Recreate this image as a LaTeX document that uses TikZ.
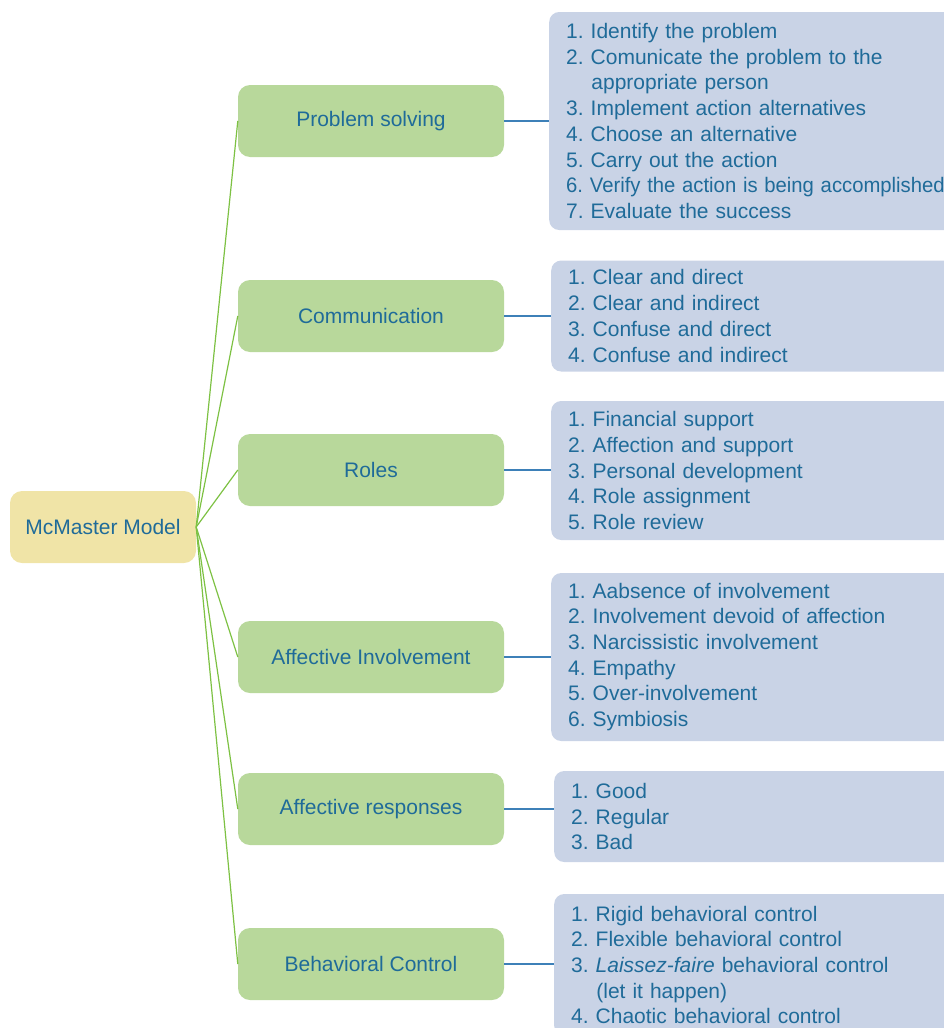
\documentclass[tikz,border=0pt]{standalone}
\usepackage{fontspec}
\setmainfont{Liberation Sans}
\frenchspacing
\definecolor{txt}{HTML}{1F6B99}
\definecolor{yellowc}{HTML}{F0E4A7}
\definecolor{greenc}{HTML}{B8D89B}
\definecolor{bluec}{HTML}{C9D3E6}
\definecolor{glinec}{HTML}{7DC143}
\definecolor{blinec}{HTML}{3D80B8}
\begin{document}
\begin{tikzpicture}[x=1pt,y=-1pt,
  basefont/.style={text=txt, font=\fontsize{21}{25.7}\selectfont\frenchspacing},
  rootbox/.style={basefont, fill=yellowc, rounded corners=12pt, minimum width=186pt, minimum height=72pt, inner sep=0pt},
  catbox/.style={basefont, fill=greenc, rounded corners=12pt, minimum width=266pt, minimum height=72pt, inner sep=0pt},
  listbox/.style={basefont, fill=bluec, rounded corners=10pt, anchor=west, text width=396pt, inner xsep=17pt, inner ysep=0pt, align=left},
  gline/.style={draw=glinec, line width=1.2pt},
  bline/.style={draw=blinec, line width=1.1pt}
]
\useasboundingbox (0,0) rectangle (944,1028);
\clip (0,0) rectangle (944,1028);

\node[rootbox] (root) at (103,527) {McMaster Model};

\node[catbox] (ps) at (371,121) {Problem solving};
\node[catbox] (co) at (371,316) {Communication};
\node[catbox] (ro) at (371,470) {Roles};
\node[catbox] (ai) at (371,657) {Affective Involvement};
\node[catbox] (ar) at (371,809) {Affective responses};
\node[catbox] (bc) at (371,964) {Behavioral Control};

\node[listbox, minimum height=218pt] (lps) at (549,121) {1. Identify the problem\\
2. Comunicate the problem to the\\
\hspace*{1.2em}appropriate person\\
3. Implement action alternatives\\
4. Choose an alternative\\
5. Carry out the action\\
\scalebox{0.965}[1]{6. Verify the action is being accomplished}\\
7. Evaluate the success};

\node[listbox, minimum height=111pt] (lco) at (551,316) {1. Clear and direct\\
2. Clear and indirect\\
3. Confuse and direct\\
4. Confuse and indirect};

\node[listbox, minimum height=139pt] (lro) at (551,470.5) {1. Financial support\\
2. Affection and support\\
3. Personal development\\
4. Role assignment\\
5. Role review};

\node[listbox, minimum height=168pt] (lai) at (551,657) {1. Aabsence of involvement\\
2. Involvement devoid of affection\\
3. Narcissistic involvement\\
4. Empathy\\
5. Over-involvement\\
6. Symbiosis};

\node[listbox, minimum height=91pt] (lar) at (554,816.5) {1. Good\\
2. Regular\\
3. Bad};

\node[listbox, minimum height=142pt] (lbc) at (554,965) {1. Rigid behavioral control\\
2. Flexible behavioral control\\
3. \textit{Laissez-faire} behavioral control\\
\hspace*{1.2em}(let it happen)\\
4. Chaotic behavioral control};

\foreach \c in {ps,co,ro,ai,ar,bc}{
  \draw[gline] (root.east) -- (\c.west);
}
\draw[bline] (ps.east) -- (ps.east -| lps.west);
\draw[bline] (co.east) -- (co.east -| lco.west);
\draw[bline] (ro.east) -- (ro.east -| lro.west);
\draw[bline] (ai.east) -- (ai.east -| lai.west);
\draw[bline] (ar.east) -- (ar.east -| lar.west);
\draw[bline] (bc.east) -- (bc.east -| lbc.west);
\end{tikzpicture}
\end{document}
